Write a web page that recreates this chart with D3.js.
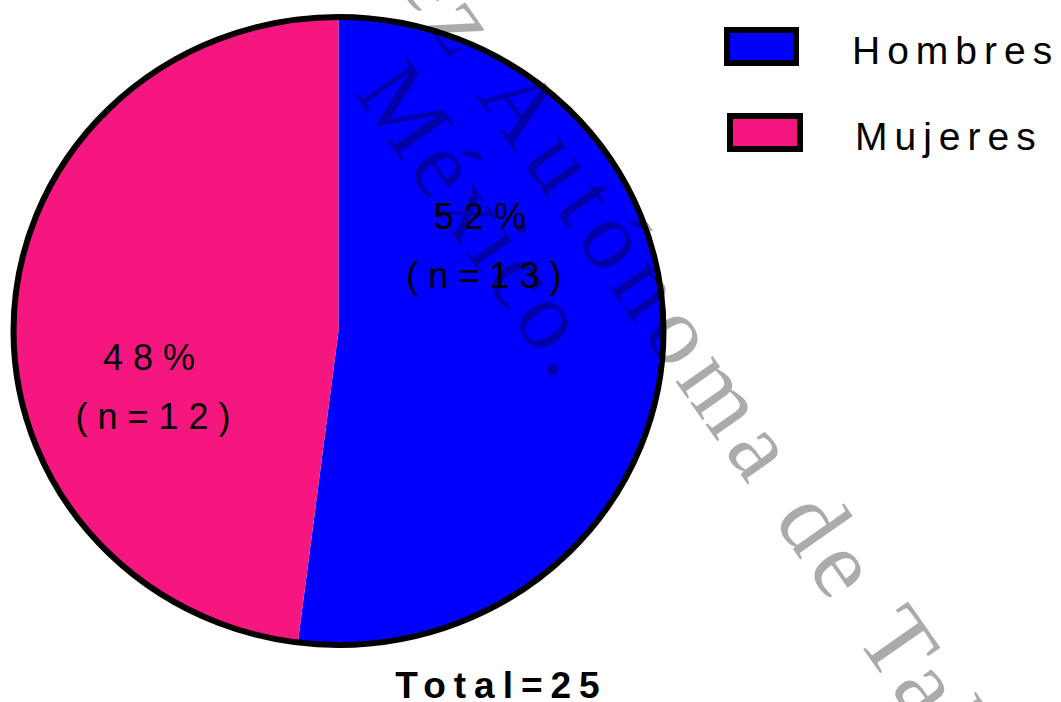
<!DOCTYPE html>
<html>
<head>
<meta charset="utf-8">
<script src="https://cdn.jsdelivr.net/npm/d3@7"></script>
<style>
  html, body { margin: 0; padding: 0; background: #fff; }
  svg { display: block; }
</style>
</head>
<body>
<svg id="chart" width="1061" height="702"></svg>
<script>
// ---- data ----
const categories = ["Hombres", "Mujeres"];
const counts = [13, 12];
const percents = ["52%", "48%"];
const countLabels = ["(n=13)", "(n=12)"];
const totalLabel = "Total=25";
const colors = ["#0000ff", "#f5177f"];
const watermarkLine1a = "Universidad Juárez";
const watermarkLine1b = "Autónoma de Tabasco.";
const watermarkLine2 = "México.";

// ---- layout ----
const cx = 338.5, cy = 331, rx = 325, ry = 314;
const svg = d3.select("#chart");

const pie = d3.pie().sort(null).value(d => d)(counts);
const arc = d3.arc().innerRadius(0).outerRadius(1);

const pieG = svg.append("g")
  .attr("transform", `translate(${cx},${cy}) scale(${rx},${ry})`);

pieG.selectAll("path.slice")
  .data(pie)
  .join("path")
  .attr("class", "slice")
  .attr("d", arc)
  .attr("fill", (d, i) => colors[i]);

// outline
pieG.append("ellipse")
  .attr("cx", 0).attr("cy", 0).attr("rx", 1).attr("ry", 1)
  .attr("fill", "none")
  .attr("stroke", "#000")
  .attr("stroke-width", 6)
  .attr("vector-effect", "non-scaling-stroke");

// slice labels (relative placement within each slice)
const labelPos = [[0.435, -0.325], [-0.583, 0.124]];
const fontSans = "'Liberation Sans', Arial, sans-serif";
const lblSpacing = 10;
pie.forEach((d, i) => {
  const x = cx + labelPos[i][0] * rx + lblSpacing / 2;
  const y = cy + labelPos[i][1] * ry;
  svg.append("text")
    .attr("x", x).attr("y", y)
    .attr("text-anchor", "middle")
    .attr("font-family", fontSans)
    .attr("font-size", 36)
    .attr("letter-spacing", lblSpacing)
    .attr("fill", "#000")
    .text(percents[i]);
  svg.append("text")
    .attr("x", x + 4).attr("y", y + 59)
    .attr("text-anchor", "middle")
    .attr("font-family", fontSans)
    .attr("font-size", 36)
    .attr("letter-spacing", lblSpacing)
    .attr("fill", "#000")
    .text(countLabels[i]);
});

// total label
svg.append("text")
  .attr("x", 497.5 + 4).attr("y", 698)
  .attr("text-anchor", "middle")
  .attr("font-family", fontSans)
  .attr("font-size", 37)
  .attr("font-weight", "bold")
  .attr("letter-spacing", 8)
  .attr("fill", "#000")
  .text(totalLabel);

// legend
const legY = d3.scalePoint().domain(categories).range([30, 116]);
const legX = [727, 730];
const leg = svg.selectAll("g.leg")
  .data(categories)
  .join("g")
  .attr("class", "leg")
  .attr("transform", (d, i) => `translate(${legX[i]},${legY(d)})`);
leg.append("rect")
  .attr("x", 0).attr("y", 0)
  .attr("width", (d, i) => i === 0 ? 69 : 70).attr("height", 33)
  .attr("fill", (d, i) => colors[i])
  .attr("stroke", "#000")
  .attr("stroke-width", 6);
leg.append("text")
  .attr("x", 125)
  .attr("y", 34)
  .attr("font-family", fontSans)
  .attr("font-size", 39)
  .attr("letter-spacing", 7)
  .attr("fill", "#000")
  .text(d => d);

// watermark
const wmSize = 98, wmLs1 = 9, wmLs2 = 5;
const wm = svg.append("g")
  .attr("transform", "translate(475,95) rotate(55)")
  .attr("font-family", "'Liberation Serif', 'Times New Roman', serif")
  .attr("font-size", wmSize)
  .attr("fill", "#000")
  .attr("fill-opacity", 0.33);
wm.append("text").attr("x", -(wmSize * 0.25 + wmLs1)).attr("y", 0)
  .attr("letter-spacing", wmLs1).attr("text-anchor", "end").text(watermarkLine1a);
wm.append("text").attr("x", 0).attr("y", 0)
  .attr("letter-spacing", wmLs1).text(watermarkLine1b);
wm.append("text").attr("x", -72).attr("y", 98)
  .attr("letter-spacing", wmLs2).text(watermarkLine2);
</script>
</body>
</html>
